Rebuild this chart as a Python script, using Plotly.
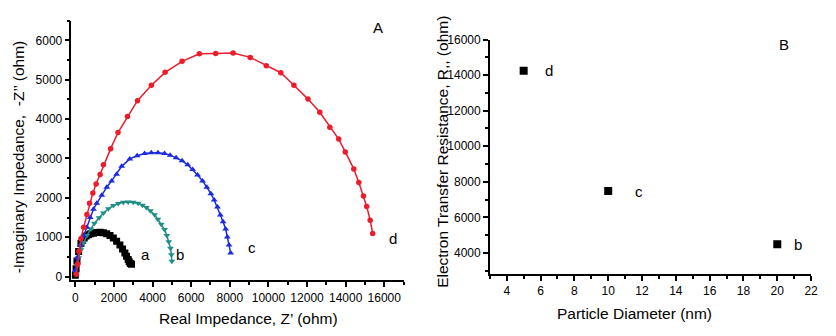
import plotly.graph_objects as go

# --- Panel A: Nyquist plots (Z' vs -Z'') ---
a_x = [0, 40, 86, 171, 291, 380, 462, 560, 684, 800, 941, 1110, 1283, 1450, 1626, 1797,
       1968, 2139, 2310, 2447, 2567, 2652, 2738, 2789, 2850, 2910]
a_y = [30, 200, 392, 637, 841, 920, 980, 1030, 1061, 1085, 1102, 1120, 1127, 1110, 1086, 1045,
       980, 898, 800, 702, 596, 514, 433, 375, 330, 310]

b_x = [36, 86, 171, 291, 428, 599, 805, 991, 1232, 1455, 1711, 1968, 2224, 2481, 2738,
       2995, 3251, 3475, 3680, 3886, 4107, 4277, 4449, 4620, 4740, 4842, 4928, 4975, 5000]
b_y = [65, 269, 474, 677, 865, 1045, 1208, 1355, 1494, 1616, 1722, 1804, 1853, 1886, 1894,
       1886, 1861, 1812, 1755, 1673, 1567, 1453, 1331, 1192, 1045, 882, 718, 555, 390]

c_x = [0, 90, 260, 430, 600, 770, 940, 1110, 1370, 1630, 1880, 2140, 2400, 2820, 3200,
       3590, 3935, 4280, 4620, 4910, 5220, 5530, 5820, 6075, 6330, 6590, 6810, 7020, 7190,
       7360, 7510, 7650, 7785, 7870, 7960, 8045]
c_y = [150, 475, 800, 1030, 1250, 1500, 1710, 1860, 2065, 2270, 2430, 2600, 2800, 2990, 3070,
       3125, 3145, 3145, 3125, 3085, 3020, 2940, 2840, 2720, 2580, 2430, 2270, 2105, 1945,
       1765, 1565, 1390, 1210, 1005, 800, 600]

d_x = [50, 120, 190, 290, 430, 599, 735, 907, 1078, 1283, 1455, 1830, 2210, 2700, 3220,
       3940, 4650, 5530, 6420, 7270, 8170, 9060, 9890, 10640, 11320, 12050, 12660, 13180,
       13640, 13980, 14420, 14680, 14920, 15090, 15270, 15400]
d_y = [60, 310, 640, 960, 1250, 1575, 1861, 2122, 2351, 2596, 2841, 3250, 3660, 4070, 4470,
       4860, 5190, 5470, 5660, 5670, 5680, 5570, 5360, 5180, 4860, 4510, 4175, 3796,
       3494, 3167, 2735, 2392, 2049, 1780, 1430, 1090]

# --- Panel B: Rct vs particle diameter ---
diam = [5, 10, 20]
rct = [14250, 7480, 4490]
rct_labels = ["d", "c", "b"]

FONT = "Arial, Liberation Sans, sans-serif"
# page body keeps an 8px margin: size the figure so it fits the 836x336 window
OFF = 8
W, H = 836 - 2 * OFF, 336 - 2 * OFF


def px(x):
    return (x - OFF) / W


def py(y):
    return (H - (y - OFF)) / H


fig = go.Figure()

series = [
    (a_x, a_y, "black", "square", 7),
    (b_x, b_y, "#1f8f86", "triangle-down", 6),
    (c_x, c_y, "#1a2be0", "triangle-up", 6),
    (d_x, d_y, "#ee1c2a", "circle", 5.5),
]
for xs, ys, col, sym, sz in series:
    fig.add_trace(go.Scatter(
        x=xs, y=ys, mode="lines+markers",
        line=dict(color=col, width=1.5),
        marker=dict(color=col, symbol=sym, size=sz),
        xaxis="x", yaxis="y", showlegend=False,
    ))

fig.add_trace(go.Scatter(
    x=diam, y=rct, mode="markers",
    marker=dict(color="black", symbol="square", size=8),
    xaxis="x2", yaxis="y2", showlegend=False,
))


def axis_style(**kw):
    base = dict(
        showline=True, linecolor="black", linewidth=1.5,
        ticks="outside", ticklen=5, tickwidth=1.5, tickcolor="black",
        showgrid=False, zeroline=False, tickformat="d",
        tickfont=dict(family=FONT, size=12, color="black"),
    )
    base.update(kw)
    return base


fig.update_layout(
    width=W, height=H,
    margin=dict(l=0, r=0, t=0, b=0),
    plot_bgcolor="white", paper_bgcolor="white",
    font=dict(family=FONT, color="black"),
    xaxis=axis_style(domain=[px(72), px(407)], range=[-200, 17000], dtick=2000,
                     minor=dict(dtick=1000, ticks="outside", ticklen=3, tickcolor="black"),
                     anchor="y"),
    yaxis=axis_style(domain=[py(282), py(14)], range=[-100, 6500], dtick=1000,
                     minor=dict(dtick=500, ticks="outside", ticklen=3, tickcolor="black"),
                     anchor="x"),
    xaxis2=axis_style(domain=[px(494), px(818)], range=[3, 22], dtick=2,
                      minor=dict(dtick=1, ticks="outside", ticklen=3, tickcolor="black"),
                      anchor="y2"),
    yaxis2=axis_style(domain=[py(275.7), py(33.3)], range=[2800, 16000], dtick=2000,
                      minor=dict(dtick=1000, ticks="outside", ticklen=3, tickcolor="black"),
                      anchor="x2"),
)

# curve labels
lab_font = dict(family=FONT, size=15, color="black")
for txt, x, y in [("a", 3650, 555), ("b", 5400, 570), ("c", 9150, 735), ("d", 16430, 960),
                  ("A", 15700, 6330)]:
    fig.add_annotation(x=x, y=y, xref="x", yref="y", text=txt, showarrow=False, font=lab_font)

for txt, x, y in zip(rct_labels, [6.5, 11.8, 21.2], rct):
    fig.add_annotation(x=x, y=y, xref="x2", yref="y2", text=txt, showarrow=False, font=lab_font)
fig.add_annotation(x=20.4, y=15700, xref="x2", yref="y2", text="B", showarrow=False, font=lab_font)

# axis titles
title_font = dict(family=FONT, size=15.5, color="black")
titles = [
    ("Real Impedance, Z’ (ohm)", 251, 321, 0),
    ("-Imaginary Impedance,  -Z’’ (ohm)", 19, 154, -90),
    ("Particle Diameter (nm)", 640, 316, 0),
    ("Electron Transfer Resistance, R,, (ohm)", 446, 149, -90),
]
for txt, x, y, ang in titles:
    fig.add_annotation(x=px(x), y=py(y), xref="paper", yref="paper", text=txt,
                       textangle=ang, xanchor="center", yanchor="middle",
                       showarrow=False, font=title_font)

fig.write_html("out.html")
